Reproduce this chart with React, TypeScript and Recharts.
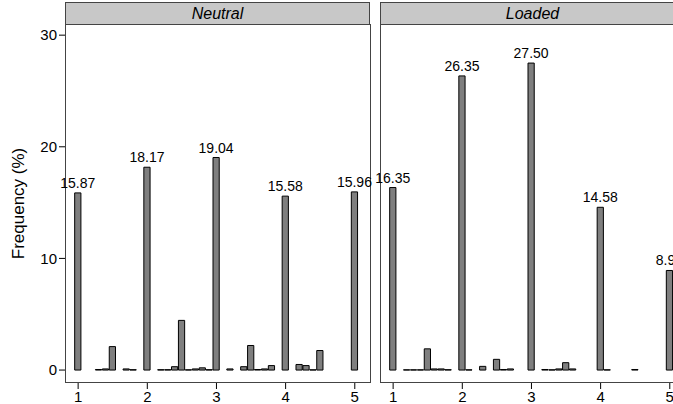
import React from "react";
import { BarChart, Bar, XAxis, YAxis, LabelList } from "recharts";

const bins = [1, 1.1, 1.2, 1.3, 1.4, 1.5, 1.6, 1.7, 1.8, 1.9, 2, 2.1, 2.2, 2.3, 2.4, 2.5, 2.6, 2.7, 2.8, 2.9, 3, 3.1, 3.2, 3.3, 3.4, 3.5, 3.6, 3.7, 3.8, 3.9, 4, 4.1, 4.2, 4.3, 4.4, 4.5, 4.6, 4.7, 4.8, 4.9, 5];

const neutral = [15.87, 0, 0, 0.05, 0.1, 2.1, 0, 0.1, 0.03, 0, 18.17, 0, 0.03, 0.03, 0.3, 4.45, 0.02, 0.1, 0.2, 0.03, 19.04, 0, 0.1, 0, 0.3, 2.2, 0.05, 0.1, 0.4, 0, 15.58, 0, 0.5, 0.4, 0.02, 1.75, 0, 0, 0, 0, 15.96];
const loaded = [16.35, 0, 0.02, 0.02, 0.02, 1.9, 0.1, 0.1, 0.03, 0, 26.35, 0.02, 0, 0.33, 0, 0.96, 0.05, 0.1, 0, 0, 27.5, 0, 0.05, 0.02, 0.1, 0.66, 0.1, 0, 0, 0, 14.58, 0.02, 0, 0, 0, 0.05, 0, 0, 0, 0, 8.92];

const xTicks = [1, 2, 3, 4, 5];
const yTicks = [0, 10, 20, 30];

const font = "'Liberation Sans', Arial, sans-serif";

const toRows = (vals: number[]) => bins.map((x, i) => ({ x, y: vals[i] }));

const renderLabel = (props: any) => {
  const { x, y, width, value } = props;
  if (value < 5) return null;
  return (
    <text x={x + width / 2} y={y - 5} textAnchor="middle" fontSize={14} fontFamily={font} fill="#000">
      {value.toFixed(2)}
    </text>
  );
};

function Panel({ title, vals, left, showY }: { title: string; vals: number[]; left: number; showY: boolean }) {
  const frameX = showY ? 65 : 8;
  const padL = showY ? 0 : 30;
  const yW = showY ? 65 : 0;
  return (
    <div style={{ position: "absolute", left, top: 0 }}>
      <div style={{ position: "absolute", left: frameX, top: 2, width: 303, height: 21, background: "#c8c8c8", border: "1px solid #444", textAlign: "center", fontFamily: font, fontStyle: "italic", fontSize: 16, lineHeight: "21px" }}>{title}</div>
      <div style={{ position: "absolute", left: frameX, top: 24, width: 304, height: 358, border: "1px solid #444", borderTop: "none", boxSizing: "content-box" }} />
      <div style={{ position: "absolute", left: frameX - yW - padL, top: 24 }}>
        <BarChart width={yW + padL + 305 + 25} height={380} data={toRows(vals)} margin={{ top: 0, right: 25, left: padL, bottom: 0 }} barSize={7}>
          <XAxis dataKey="x" type="number" domain={[0.81, 5.22]} ticks={xTicks} allowDataOverflow axisLine={false} tickLine={{ stroke: "#000" }} tick={{ fill: "#000", fontSize: 15, fontFamily: font }} height={21} interval={0} />
          <YAxis hide={!showY} width={yW} type="number" domain={[-1.16, 31]} ticks={yTicks} allowDataOverflow axisLine={false} tickLine={{ stroke: "#000" }} tick={{ fill: "#000", fontSize: 15, fontFamily: font }} label={{ value: "Frequency (%)", angle: -90, position: "insideLeft", offset: 18, style: { fontSize: 17, fontFamily: font, fill: "#000", textAnchor: "middle" } }} />
          <Bar dataKey="y" fill="#7f7f7f" stroke="#000" strokeWidth={1} isAnimationActive={false}>
            <LabelList dataKey="y" content={renderLabel} />
          </Bar>
        </BarChart>
      </div>
    </div>
  );
}

export default function App() {
  return (
    <div style={{ position: "absolute", left: 0, top: 0, width: 673, height: 404, overflow: "hidden", background: "#fff" }}>
      <Panel title="Neutral" vals={neutral} left={0} showY />
      <Panel title="Loaded" vals={loaded} left={372} showY={false} />
    </div>
  );
}
